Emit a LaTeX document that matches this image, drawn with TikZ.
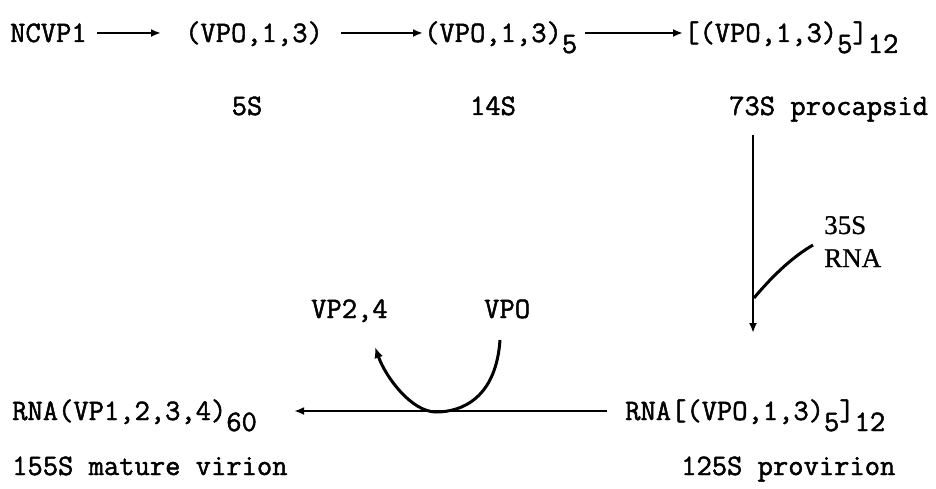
\documentclass[tikz,border=0pt]{standalone}
\usepackage{fontspec}
\newfontfamily\twfont{Latin Modern Mono}[FakeBold=1.6]
\newfontfamily\labfont{Liberation Serif}[FakeBold=0.8]
\usepackage{tikz}
\usetikzlibrary{arrows.meta,calc}
\newcommand\lowsub[1]{\raisebox{-11pt}{#1}}

\begin{document}
\begin{tikzpicture}[x=1pt, y=-1pt,
  tw/.style={anchor=base west, inner sep=0pt, font=\fontsize{29.7}{34}\selectfont\twfont},
  row/.style={tw, text height=18pt, text depth=0pt},
  sed/.style={tw, anchor=base},
  rnalab/.style={anchor=base west, inner sep=0pt, font=\fontsize{27}{30}\selectfont\labfont},
  arrow/.style={-{Latex[length=10pt,width=8pt]}, line width=2.2pt},
  curve/.style={line width=3pt},
]
\useasboundingbox (0,0) rectangle (936,489);
% --- assembly row ---
\node[row] (ncvp) at (10,42) {NCVP1};
\node[row] (prot) at (185,42) {(VPO,1,3)};
\node[row] (pent) at (424,42) {(VPO,1,3)\lowsub{5}};
\node[row] (procap) at (684,42) {[(VPO,1,3)\lowsub{5}]\lowsub{12}};
\draw[arrow, shorten <=10pt, shorten >=24pt] (ncvp) -- (prot);
\draw[arrow, shorten <=18pt, shorten >=1pt] (prot) -- (pent);
\draw[arrow, shorten <=8pt, shorten >=1pt] (pent) -- (procap);
\node[sed] (s5) at (247,115) {5S};
\node[sed] (s14) at (493,115) {14S};
\node[tw] (procapl) at (729,115) {73S procapsid};
% --- RNA packaging ---
\coordinate (vtop) at (753,135);
\coordinate (vbot) at (753,333);
\coordinate (rnajoin) at (754,298);
\coordinate (rnaend) at (813,245);
\draw[arrow] (vtop) -- (vbot);
\draw[curve] (rnajoin) .. controls (774,274) and (794,256) .. (rnaend);
\node[rnalab] (s35) at (824,234) {35S};
\node[rnalab] (rna) at (824,267) {RNA};
% --- maturation ---
\node[row] (prov) at (625,420) {RNA[(VPO,1,3)\lowsub{5}]\lowsub{12}};
\node[row] (mature) at (12,420) {RNA(VP1,2,3,4)\lowsub{60}};
\draw[arrow, shorten <=18pt, shorten >=37pt] (prov) -- (mature);
\node[tw] (vp24) at (311,318) {VP2,4};
\node[tw] (vpo) at (484,318) {VPO};
\coordinate (uright) at (500,340);
\coordinate (ubot) at (436,412);
\coordinate (utip) at (375,347);
\draw[curve, -{Latex[length=11pt,width=9pt]}] (uright) .. controls (496,398) and (462,412) .. (ubot)
  .. controls (412,412) and (386,378) .. (utip);
\node[tw] (plab) at (681,475) {125S provirion};
\node[tw] (mlab) at (12,475) {155S mature virion};
\end{tikzpicture}
\end{document}
